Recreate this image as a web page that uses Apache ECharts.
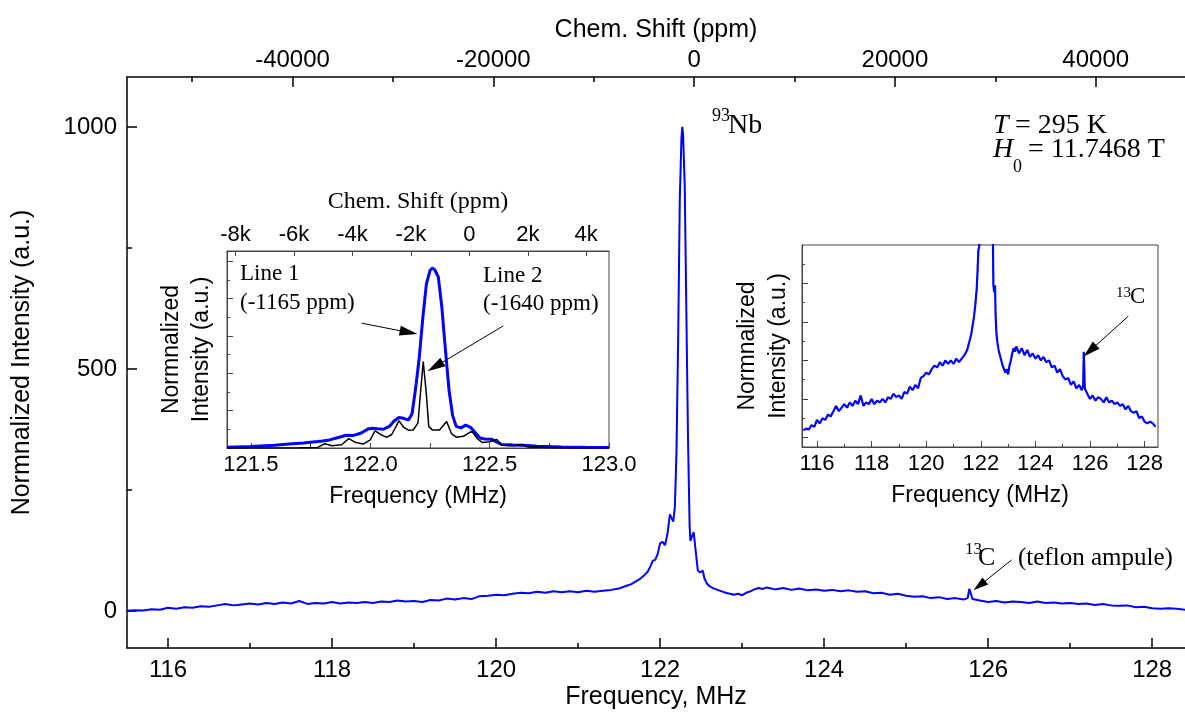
<!DOCTYPE html>
<html><head><meta charset="utf-8">
<script src="https://cdn.jsdelivr.net/npm/echarts/dist/echarts.min.js"></script>
<style>html,body{margin:0;padding:0;background:#fff}#c{width:1185px;height:713px}</style>
</head><body><div id="c"></div>
<script>
// ---------- data ----------
const mainFreq = [115.5,115.6,115.7,115.8,115.9,116.0,116.1,116.2,116.3,116.4,116.5,116.6,116.7,116.8,116.9,117.0,117.1,117.2,117.3,117.4,117.5,117.6,117.7,117.8,117.9,118.0,118.1,118.2,118.3,118.4,118.5,118.6,118.7,118.8,118.9,119.0,119.1,119.2,119.3,119.4,119.5,119.6,119.7,119.8,119.9,120.0,120.1,120.2,120.3,120.4,120.5,120.6,120.7,120.8,120.9,121.0,121.1,121.2,121.3,121.4,121.5,121.55,121.6,121.65,121.7,121.75,121.8,121.85,121.88,121.91,121.94,121.97,122.0,122.03,122.06,122.09,122.12,122.14,122.16,122.18,122.2,122.22,122.24,122.26,122.27,122.28,122.3,122.32,122.34,122.36,122.37,122.39,122.41,122.43,122.46,122.49,122.52,122.54,122.57,122.6,122.65,122.7,122.75,122.8,122.85,122.9,122.95,123.0,123.05,123.1,123.15,123.2,123.25,123.3,123.4,123.5,123.6,123.7,123.8,123.9,124.0,124.1,124.2,124.3,124.4,124.5,124.6,124.7,124.8,124.9,125.0,125.1,125.2,125.3,125.4,125.5,125.6,125.7,125.75,125.77,125.79,125.81,125.9,126.0,126.1,126.2,126.3,126.4,126.5,126.6,126.7,126.8,126.9,127.0,127.1,127.2,127.3,127.4,127.5,127.6,127.7,127.8,127.9,128.0,128.1,128.2,128.3,128.4];
const mainIntensity = [1,2,1.5,4,3,7,5,8,7,10,9,12,15,12,14,16,14,17,15,18,16,21,15,17,16,19,16,18,17,19,17,20,19,22,20,21,19,23,22,26,24,27,25,31,32,34,33,36,38,37,40,38,41,39,41,39,42,40,42,44,47,50,53,56,61,66,73,82,92,104,106,118,140,143,136,160,200,204,185,215,330,560,850,975,1000,985,880,620,360,175,145,155,163,130,84,80,84,68,57,52,47,44,41,38,36,34,36,33,38,41,45,48,46,49,45,48,44,47,43,45,42,44,41,43,40,41,37,38,34,36,32,30,31,27,29,25,27,24,27,46,47,25,22,19,21,18,20,19,17,20,17,18,16,17,15,16,13,15,12,11,12,8,9,6,5,6,5,3];

const zoomFreqBlue = [121.40,121.50,121.60,121.66,121.72,121.78,121.80,121.83,121.87,121.90,121.93,121.96,121.99,122.01,122.03,122.055,122.08,122.10,122.12,122.14,122.16,122.175,122.19,122.205,122.22,122.235,122.25,122.26,122.27,122.285,122.30,122.31,122.32,122.33,122.345,122.36,122.38,122.40,122.42,122.44,122.46,122.48,122.51,122.53,122.55,122.60,122.64,122.70,122.80,122.90,123.00];
const zoomBlue = [0.004,0.008,0.015,0.022,0.028,0.036,0.039,0.045,0.060,0.071,0.070,0.082,0.105,0.110,0.107,0.104,0.120,0.150,0.169,0.165,0.155,0.19,0.33,0.50,0.72,0.91,0.985,1.0,0.99,0.95,0.78,0.62,0.47,0.32,0.18,0.12,0.112,0.127,0.115,0.085,0.056,0.050,0.048,0.032,0.020,0.016,0.015,0.010,0.006,0.004,0.003];
const zoomFreqBlack = [121.40,121.70,121.78,121.81,121.84,121.88,121.91,121.94,121.97,122.00,122.02,122.05,122.07,122.09,122.12,122.14,122.16,122.18,122.20,122.21,122.222,122.235,122.245,122.26,122.29,122.32,122.34,122.36,122.39,122.425,122.45,122.47,122.50,122.53,122.55,122.60,122.634,122.66,122.80,123.00];
const zoomBlack = [0.000,0.002,0.003,0.024,0.012,0.018,0.052,0.030,0.022,0.045,0.095,0.070,0.060,0.075,0.151,0.115,0.099,0.100,0.14,0.30,0.48,0.30,0.12,0.10,0.10,0.147,0.08,0.06,0.065,0.094,0.05,0.03,0.035,0.048,0.015,0.013,0.02,0.005,0.002,0.001];

// tick values / labels
const mainFreqLabels = [116,118,120,122,124,126,128];
const mainFreqMinor = [117,119,121,123,125,127];
const mainPpmLabels = [-40000,-20000,0,20000,40000];
const mainPpmMinor = [-50000,-30000,-10000,10000,30000];
const mainIntLabels = [0,500,1000];
const mainIntMinor = [250,750];
const zoomFreqLabels = [121.5,122.0,122.5,123.0];
const zoomFreqTicks = [121.5,121.75,122.0,122.25,122.5,122.75,123.0];
const zoomPpmLabels = [-8000,-6000,-4000,-2000,0,2000,4000];
const wideFreqLabels = [116,118,120,122,124,126,128];
const wideFreqMinor = [117,119,121,123,125,127];
const wideIntMajor = [-3,19,41,63,85];
const wideIntMinor = [8,30,52,74,96];

const zip = (a,b) => a.map((x,i)=>[x,b[i]]);

const SANS = '"Liberation Sans", Arial, sans-serif';
const SERIF = '"Liberation Serif", "Times New Roman", serif';
const BLUE = '#0000ff';

function tick(vals, len, color, w){ return {show:true, inside:true, length:len, customValues:vals, lineStyle:{color:color, width:w}}; }
function noLabel(){ return {show:false}; }

const chart = echarts.init(document.getElementById('c'), null, {renderer:'canvas'});

const gridCommon = {containLabel:false, outerBoundsMode:'none'};

const option = {
  animation:false,
  backgroundColor:'#fff',
  grid:[
    Object.assign({left:127, top:77, width:1058, height:571, show:false}, gridCommon),
    Object.assign({left:227, top:251, width:382, height:197, show:true, backgroundColor:'#fff', borderColor:'#444', borderWidth:1}, gridCommon),
    Object.assign({left:802, top:245, width:356, height:202, show:true, backgroundColor:'#fff', borderColor:'#444', borderWidth:1}, gridCommon)
  ],
  xAxis:[
    { // 0 main bottom
      type:'value', gridIndex:0, position:'bottom', min:115.5, max:128.4,
      name:'Frequency, MHz', nameLocation:'middle', nameGap:37, nameMoveOverlap:false,
      nameTextStyle:{fontFamily:SANS, fontSize:25, color:'#000'},
      axisLine:{show:true, onZero:false, lineStyle:{color:'#000', width:1.5}},
      axisTick:tick(mainFreqLabels,10,'#000',1.5),
      axisLabel:{show:true, customValues:mainFreqLabels, margin:10, fontFamily:SANS, fontSize:24, color:'#000', formatter:v=>String(v)},
      splitLine:{show:false}
    },
    { // 1 main bottom minor
      type:'value', gridIndex:0, position:'bottom', min:115.5, max:128.4,
      axisLine:{show:false, onZero:false}, axisTick:tick(mainFreqMinor,5,'#000',1.5), axisLabel:noLabel(), splitLine:{show:false}
    },
    { // 2 main top ppm
      type:'value', gridIndex:0, position:'top', min:-56488, max:48891,
      name:'Chem. Shift (ppm)', nameLocation:'middle', nameGap:34, nameMoveOverlap:false,
      nameTextStyle:{fontFamily:SANS, fontSize:25, color:'#000'},
      axisLine:{show:true, onZero:false, lineStyle:{color:'#000', width:1.5}},
      axisTick:tick(mainPpmLabels,10,'#000',1.5),
      axisLabel:{show:true, customValues:mainPpmLabels, margin:5, fontFamily:SANS, fontSize:24, color:'#000', formatter:v=>String(v)},
      splitLine:{show:false}
    },
    { // 3 main top minor
      type:'value', gridIndex:0, position:'top', min:-56488, max:48891,
      axisLine:{show:false, onZero:false}, axisTick:tick(mainPpmMinor,5,'#000',1.5), axisLabel:noLabel(), splitLine:{show:false}
    },
    { // 4 zoom inset bottom
      type:'value', gridIndex:1, position:'bottom', min:121.4, max:123.0,
      name:'Frequency (MHz)', nameLocation:'middle', nameGap:37, nameMoveOverlap:false,
      nameTextStyle:{fontFamily:SANS, fontSize:23, color:'#000'},
      axisLine:{show:true, onZero:false, lineStyle:{color:'#444', width:1}},
      axisTick:tick(zoomFreqTicks,5,'#444',1),
      axisLabel:{show:true, customValues:zoomFreqLabels, margin:6, fontFamily:SANS, fontSize:22, color:'#000', formatter:v=>v.toFixed(1)},
      splitLine:{show:false}
    },
    { // 5 zoom inset top ppm
      type:'value', gridIndex:1, position:'top', min:-8291, max:4779,
      name:'Chem. Shift (ppm)', nameLocation:'middle', nameGap:37, nameMoveOverlap:false,
      nameTextStyle:{fontFamily:SERIF, fontSize:24, color:'#000'},
      axisLine:{show:true, onZero:false, lineStyle:{color:'#444', width:1}},
      axisTick:tick(zoomPpmLabels,5,'#444',1),
      axisLabel:{show:true, customValues:zoomPpmLabels, margin:5, fontFamily:SANS, fontSize:22, color:'#000', formatter:v=> v===0 ? '0' : (v/1000)+'k'},
      splitLine:{show:false}
    },
    { // 6 wide inset bottom
      type:'value', gridIndex:2, position:'bottom', min:115.45, max:128.49,
      name:'Frequency (MHz)', nameLocation:'middle', nameGap:37, nameMoveOverlap:false,
      nameTextStyle:{fontFamily:SANS, fontSize:23, color:'#000'},
      axisLine:{show:true, onZero:false, lineStyle:{color:'#444', width:1}},
      axisTick:tick(wideFreqLabels,6,'#444',1),
      axisLabel:{show:true, customValues:wideFreqLabels, margin:6, fontFamily:SANS, fontSize:22, color:'#000', formatter:v=>String(v)},
      splitLine:{show:false}
    },
    { // 7 wide inset bottom minor
      type:'value', gridIndex:2, position:'bottom', min:115.45, max:128.49,
      axisLine:{show:false, onZero:false}, axisTick:tick(wideFreqMinor,3,'#444',1), axisLabel:noLabel(), splitLine:{show:false}
    }
  ],
  yAxis:[
    { // 0 main
      type:'value', gridIndex:0, position:'left', min:-76, max:1103,
      name:'Normnalized Intensity (a.u.)', nameLocation:'middle', nameGap:92, nameMoveOverlap:false,
      nameTextStyle:{fontFamily:SANS, fontSize:25, color:'#000'},
      axisLine:{show:true, onZero:false, lineStyle:{color:'#000', width:1.5}},
      axisTick:tick(mainIntLabels,10,'#000',1.5),
      axisLabel:{show:true, customValues:mainIntLabels, margin:10, fontFamily:SANS, fontSize:24, color:'#000', formatter:v=>String(v)},
      splitLine:{show:false}
    },
    { // 1 main minor
      type:'value', gridIndex:0, position:'left', min:-76, max:1103,
      axisLine:{show:false, onZero:false}, axisTick:tick(mainIntMinor,5,'#000',1.5), axisLabel:noLabel(), splitLine:{show:false}
    },
    { // 2 zoom inset
      type:'value', gridIndex:1, position:'left', min:0, max:1.094, interval:0.2074,
      name:'Normnalized\nIntensity (a.u.)', nameLocation:'middle', nameGap:10, nameMoveOverlap:false,
      nameTextStyle:{fontFamily:SANS, fontSize:23, color:'#000', lineHeight:30},
      axisLine:{show:true, onZero:false, lineStyle:{color:'#444', width:1}},
      axisTick:{show:true, inside:true, length:6, lineStyle:{color:'#444', width:1}},
      minorTick:{show:true, splitNumber:2, length:3, lineStyle:{color:'#444', width:1}},
      axisLabel:noLabel(), splitLine:{show:false}, minorSplitLine:{show:false}
    },
    { // 3 wide inset
      type:'value', gridIndex:2, position:'left', min:-8.5, max:107,
      name:'Normnalized\nIntensity (a.u.)', nameLocation:'middle', nameGap:8, nameMoveOverlap:false,
      nameTextStyle:{fontFamily:SANS, fontSize:23, color:'#000', lineHeight:31},
      axisLine:{show:true, onZero:false, lineStyle:{color:'#444', width:1}},
      axisTick:tick(wideIntMajor,6,'#444',1),
      axisLabel:noLabel(), splitLine:{show:false}
    },
    { // 4 wide inset minor
      type:'value', gridIndex:2, position:'left', min:-8.5, max:107,
      axisLine:{show:false, onZero:false}, axisTick:tick(wideIntMinor,3,'#444',1), axisLabel:noLabel(), splitLine:{show:false}
    }
  ],
  series:[
    {
      type:'line', name:'main', xAxisIndex:0, yAxisIndex:0, data:zip(mainFreq, mainIntensity),
      showSymbol:false, symbol:'none', clip:true, lineStyle:{color:BLUE, width:2}, z:3,
      markLine:{silent:true, animation:false, symbol:['none','triangle'], label:{show:false},
        lineStyle:{color:'#000', width:1, type:'solid'},
        data:[[{coord:[126.285,105.7], symbol:'none'},{coord:[125.893,52.7], symbol:'triangle', symbolSize:[9,15]}]]}
    },
    {
      type:'line', name:'zoomBlue', xAxisIndex:4, yAxisIndex:2, data:zip(zoomFreqBlue, zoomBlue),
      showSymbol:false, symbol:'none', clip:true, lineStyle:{color:BLUE, width:3}, z:3,
      markLine:{silent:true, animation:false, symbol:['none','triangle'], label:{show:false},
        lineStyle:{color:'#000', width:1, type:'solid'},
        data:[
          [{coord:[121.964,0.693], symbol:'none'},{coord:[122.161,0.642], symbol:'triangle', symbolSize:[10,18]}],
          [{coord:[122.557,0.678], symbol:'none'},{coord:[122.272,0.452], symbol:'triangle', symbolSize:[10,18]}]
        ]}
    },
    {
      type:'line', name:'zoomBlack', xAxisIndex:4, yAxisIndex:2, data:zip(zoomFreqBlack, zoomBlack),
      showSymbol:false, symbol:'none', clip:true, lineStyle:{color:'#000', width:1.5}, z:4
    },
    {
      type:'line', name:'wide', xAxisIndex:6, yAxisIndex:3, data:zip(mainFreq, mainIntensity),
      showSymbol:false, symbol:'none', clip:true, lineStyle:{color:BLUE, width:2.2}, z:3,
      markLine:{silent:true, animation:false, symbol:['none','triangle'], label:{show:false},
        lineStyle:{color:'#000', width:1, type:'solid'},
        data:[[{coord:[127.402,66.3], symbol:'none'},{coord:[125.996,46.5], symbol:'triangle', symbolSize:[10,17]}]]}
    }
  ],
  graphic:[]
};

function txt(x,y,text,font){
  return {type:'text', x:x, y:y, silent:true, z:100,
    style:{text:text, font:font, fill:'#000', textAlign:'left', textVerticalAlign:'middle', align:'left', verticalAlign:'middle'}};
}
option.graphic = [
  txt(712,116,'93','18px '+SERIF),
  txt(728,126,'Nb','28px '+SERIF),
  txt(993,126,'T','italic 28px '+SERIF),
  txt(1008,126,' = 295 K','28px '+SERIF),
  txt(993,150,'H','italic 28px '+SERIF),
  txt(1013,167,'0','18px '+SERIF),
  txt(1021,150,' = 11.7468 T','28px '+SERIF),
  txt(965,550,'13','17px '+SERIF),
  txt(978,558,'C','26px '+SERIF),
  txt(1018,558,'(teflon ampule)','25px '+SERIF),
  txt(1116,293,'13','15px '+SERIF),
  txt(1130,297,'C','23px '+SERIF),
  txt(240,273.5,'Line 1','23px '+SERIF),
  txt(240,302.5,'(-1165 ppm)','23px '+SERIF),
  txt(483,275.5,'Line 2','23px '+SERIF),
  txt(483,304,'(-1640 ppm)','23px '+SERIF)
];

chart.setOption(option);
</script>
</body></html>
